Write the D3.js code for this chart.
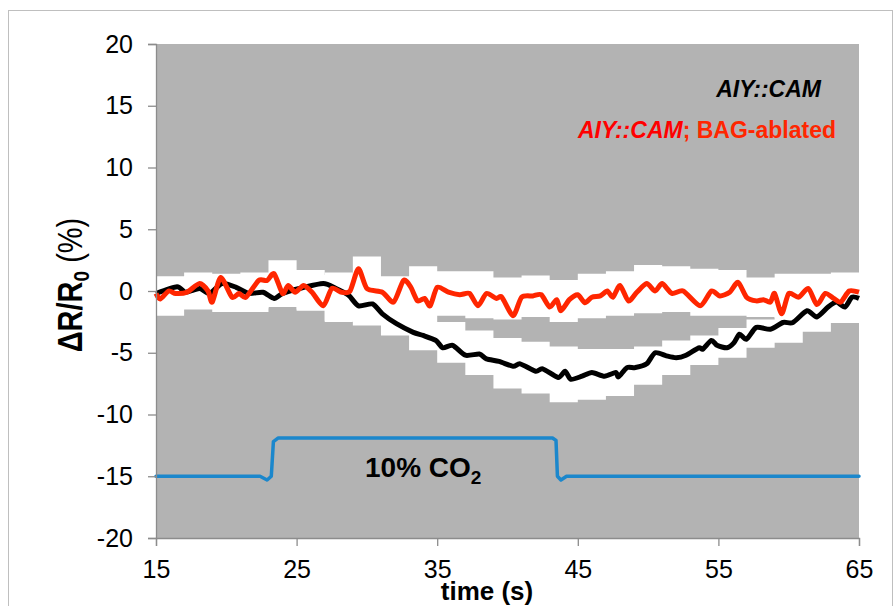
<!DOCTYPE html>
<html>
<head>
<meta charset="utf-8">
<script src="https://cdnjs.cloudflare.com/ajax/libs/d3/7.8.5/d3.min.js"></script>
<style>
  body { margin: 0; background: #fff; }
  text { font-family: Arial, "Liberation Sans", sans-serif; }
</style>
</head>
<body>
<div id="chart"></div>
<script>
    var width = 895,
        height = 606;

    // traces: time (s) and dR/R0 (%)
    var camTime = [15, 16.5, 17.1, 18.1, 18.8, 19.7, 20.7, 21.6, 22.6, 23.4, 24, 25.2, 26.9, 27.8, 28.7, 29.4, 30.4, 31.1,
      32.1, 33.3, 34, 34.9, 35.4, 36.1, 37, 38, 38.5, 39.4, 40.4, 40.9, 42, 42.5, 43.6, 44.1, 44.5, 45.3, 46, 46.9,
      47.7, 47.9, 48.5, 49.1, 49.9, 50.5, 51.3, 52, 52.7, 53.6, 53.9, 54.5, 54.9, 55.6, 56.1, 56.5, 57, 57.7, 58.7,
      59.6, 60.3, 61.3, 62, 62.8, 63.4, 64, 64.5, 65];
    var camValue = [-0.2, 0.35, -0.1, 0.2, -0.2, 0.6, 0.3, -0.2, -0.1, -0.6, -0.2, 0.2, 0.6, 0.2, -0.35, -1.2, -1.05, -1.85,
      -2.65, -3.35, -3.6, -4.0, -4.6, -4.4, -5.2, -5.1, -5.5, -5.7, -6.1, -5.9, -6.5, -6.3, -7.0, -6.5, -7.15, -6.9, -6.6, -6.9,
      -6.6, -6.95, -6.2, -6.2, -5.9, -5.0, -5.25, -5.4, -5.2, -4.6, -4.7, -4.0, -4.4, -4.6, -4.2, -3.5, -3.9, -2.95, -3.1,
      -2.55, -2.55, -1.6, -2.1, -1.3, -0.9, -1.3, -0.5, -0.6];

    var bagTime = [15, 15.3, 15.9, 16.4, 17.2, 18.1, 18.7, 19, 19.6, 20.4, 20.9, 21.4, 22.3, 22.9, 23.4, 24, 24.4, 24.9,
      25.5, 26.1, 26.9, 27.5, 28.2, 28.8, 29.4, 30, 31.1, 31.9, 32.6, 33.1, 33.6, 34.1, 34.5, 35, 35.8, 36.6, 37.3, 37.9,
      38.5, 39.2, 39.6, 40.4, 41, 41.8, 42.4, 43, 43.5, 43.8, 44.4, 45, 45.5, 46, 46.6, 47.1, 47.5, 48, 48.6, 49.2, 49.9,
      50.5, 51, 51.7, 52.5, 53.7, 54.5, 55.1, 55.8, 56.4, 57, 57.7, 58.2, 58.7, 59, 59.5, 60, 60.7, 61.4, 62, 62.6, 63.2,
      63.7, 64.3, 65];
    var bagValue = [-0.2, -0.65, 0, -0.2, -0.1, 0.6, 0, -0.9, 1.1, -0.5, -0.2, -0.5, 0.85, 0.85, 1.4, -0.2, 0.45, -0.1,
      0.45, -0.1, -1.2, 0.2, -0.1, 0, 1.8, 0.2, -0.1, -0.9, 0.85, 0.35, -0.8, -0.6, -1.2, 0.3, -0.1, -0.3, -0.2, -1.2,
      -0.2, -0.6, -0.5, -2.0, -0.5, -0.4, -0.3, -1.3, -0.7, -1.6, -0.7, -0.3, -0.95, -0.5, -0.4, 0, -0.5, 0.45, -0.8, -0.1, 0.6,
      0, 0.6, -0.2, 0, -1.2, 0, -0.4, -0.1, 0.7, -0.5, -0.8, -0.7, -0.9, -0.2, -1.85, -0.2, -0.5, 0.2, -1.1, -0.2, -0.6,
      -0.9, 0, -0.1];

    // error envelopes, stepped every 2 s
    var bandTime = d3.range(15, 66, 2);
    var camHigh = [1.0, 1.2, 1.2, 1.0, 0.8, 1.2, 1.5, 0.8, -0.2, -1.5, -2.5, -3.2, -3.8, -4.1, -4.5, -4.7, -4.7, -4.5, -4.0,
      -3.6, -3.0, -2.3, -1.5, -0.8, -0.2, 0.5];
    var camLow = [-1.5, -1.3, -1.3, -1.4, -1.3, -1.5, -2.4, -2.8, -3.6, -4.8, -5.8, -6.8, -7.9, -8.3, -9.0, -8.8, -8.5,
      -7.6, -6.8, -6.0, -5.4, -4.6, -4.2, -3.3, -2.6, -1.9];
    var bagHigh = [1.2, 1.5, 1.4, 1.5, 2.5, 1.7, 1.3, 2.8, 1.2, 2.0, 1.6, 1.6, 1.1, 1.25, 0.9, 1.4, 1.6, 2.1, 2.0, 1.8,
      1.7, 1.1, 1.4, 1.4, 1.5, 1.5];
    var bagLow = [-2.0, -1.5, -1.7, -1.7, -1.3, -1.6, -2.5, -1.8, -2.0, -2.0, -2.0, -2.2, -2.3, -2.1, -2.5, -2.2, -2.0,
      -1.8, -1.7, -2.0, -2.0, -2.1, -2.2, -2.0, -1.8, -1.8];

    // CO2 stimulus trace
    var stimTime = [15, 22.4, 22.9, 23.2, 23.35, 23.7, 43.2, 43.45, 43.55, 43.8, 44.2, 65];
    var stimValue = [-15, -15, -15.3, -15, -12.2, -11.9, -11.9, -12.1, -15, -15.3, -15, -15];

    var xTicks = [15, 25, 35, 45, 55, 65];
    var yTicks = [20, 15, 10, 5, 0, -5, -10, -15, -20];

    var margin = { left: 156, right: 36, top: 44, bottom: 68 };

    var x = d3.scaleLinear().domain([15, 65]).range([margin.left, width - margin.right]);
    var y = d3.scaleLinear().domain([-20, 20]).range([height - margin.bottom, margin.top]);

    var svg = d3.select("#chart").append("svg")
      .attr("width", width)
      .attr("height", height);

    // outer frame
    svg.append("rect")
      .attr("x", 8.5).attr("y", 10.5)
      .attr("width", 884).attr("height", 620)
      .attr("fill", "none")
      .attr("stroke", "#bfbfbf");

    svg.append("rect")
      .attr("x", x(15)).attr("y", y(20))
      .attr("width", x(65) - x(15)).attr("height", y(-20) - y(20))
      .attr("fill", "#b3b3b3");

    function band(hi, lo) {
      var d = bandTime.map(function(t, i) { return { t: t, hi: hi[i], lo: lo[i] }; });
      return d3.area()
        .curve(d3.curveStepAfter)
        .x(function(p) { return x(p.t); })
        .y0(function(p) { return y(p.lo); })
        .y1(function(p) { return y(p.hi); })(d);
    }

    svg.append("path").attr("d", band(camHigh, camLow)).attr("fill", "#fff");
    svg.append("path").attr("d", band(bagHigh, bagLow)).attr("fill", "#fff");

    function trace(ts, vs, curve) {
      return d3.line()
        .curve(curve)
        .x(function(t) { return x(t); })
        .y(function(t, i) { return y(vs[i]); })(ts);
    }

    svg.append("path")
      .attr("d", trace(camTime, camValue, d3.curveCardinal.tension(0.3)))
      .attr("fill", "none")
      .attr("stroke", "#000")
      .attr("stroke-width", 5)
      .attr("stroke-linejoin", "round");

    svg.append("path")
      .attr("d", trace(bagTime, bagValue, d3.curveCardinal.tension(0.3)))
      .attr("fill", "none")
      .attr("stroke", "#ff2600")
      .attr("stroke-width", 5)
      .attr("stroke-linejoin", "round");

    svg.append("path")
      .attr("d", trace(stimTime, stimValue, d3.curveLinear))
      .attr("fill", "none")
      .attr("stroke", "#1b87cc")
      .attr("stroke-width", 3.5)
      .attr("stroke-linejoin", "round")
      .attr("stroke-linecap", "round");

    // axes (plain hyphen for negatives, like the original)
    var fmt = function(d) { return String(d); };
    var xAxis = svg.append("g")
      .attr("transform", "translate(0," + y(-20) + ")")
      .call(d3.axisBottom(x).tickValues(xTicks).tickFormat(fmt).tickSize(8).tickPadding(14));
    var yAxis = svg.append("g")
      .attr("transform", "translate(" + x(15) + ",0)")
      .call(d3.axisLeft(y).tickValues(yTicks).tickFormat(fmt).tickSize(8).tickPadding(15));

    [xAxis, yAxis].forEach(function(g) {
      g.select(".domain").attr("stroke", "#8c8c8c").attr("stroke-width", 1.3);
      g.selectAll(".tick line").attr("stroke", "#8c8c8c").attr("stroke-width", 1.3);
      g.selectAll("text")
        .attr("fill", "#000")
        .style("font-family", "Arial, 'Liberation Sans', sans-serif")
        .style("font-size", "25px");
    });

    // axis titles
    svg.append("text")
      .attr("x", 487).attr("y", 600)
      .attr("text-anchor", "middle")
      .style("font-size", "26px")
      .style("font-weight", "bold")
      .text("time (s)");

    var yTitle = svg.append("text")
      .attr("transform", "translate(82,285) rotate(-90) scale(1,1.18)")
      .attr("text-anchor", "middle")
      .style("font-size", "29px");
    yTitle.append("tspan").style("font-weight", "bold").text("ΔR/R");
    yTitle.append("tspan").style("font-weight", "bold").style("font-size", "19px").attr("dy", 6).text("0");
    yTitle.append("tspan").attr("dy", -6).text(" (%)");

    // legend
    svg.append("text")
      .attr("x", 821).attr("y", 97)
      .attr("text-anchor", "end")
      .style("font-size", "23px")
      .style("font-weight", "bold")
      .style("font-style", "italic")
      .text("AIY::CAM");

    var leg2 = svg.append("text")
      .attr("x", 836).attr("y", 138)
      .attr("text-anchor", "end")
      .attr("fill", "#ff2600")
      .style("font-size", "23px")
      .style("font-weight", "bold");
    leg2.append("tspan").style("font-style", "italic").attr("fill", "#ff0000").text("AIY::CAM");
    leg2.append("tspan").text("; BAG-ablated");

    // stimulus label
    var co2 = svg.append("text")
      .attr("x", 365).attr("y", 477)
      .style("font-size", "28px")
      .style("font-weight", "bold");
    co2.append("tspan").text("10% CO");
    co2.append("tspan").attr("dy", 7).style("font-size", "19px").text("2");
</script>
</body>
</html>
